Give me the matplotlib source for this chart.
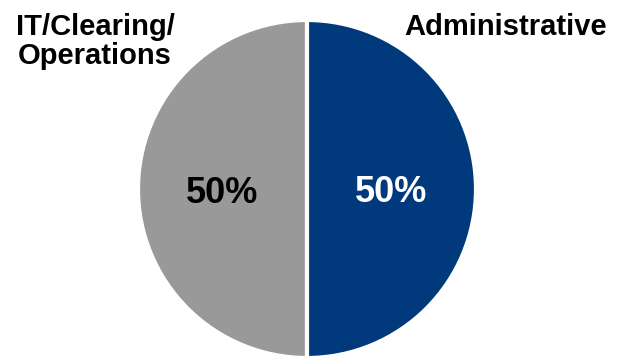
import matplotlib.pyplot as plt

labels = ['IT/Clearing/\nOperations', 'Administrative']
shares = [50, 50]
colors = ['#999999', '#003A7D']
pct_colors = ['black', 'white']

plt.rcParams['font.family'] = ['Liberation Sans', 'DejaVu Sans']

fig = plt.figure(figsize=(6.25, 3.58), dpi=100)
ax = fig.add_axes([0, 0, 1, 1])

wedges, texts, autotexts = ax.pie(
    shares,
    colors=colors,
    startangle=90,
    center=(307, 169),
    radius=169,
    autopct='%d%%',
    pctdistance=0.5,
    wedgeprops=dict(edgecolor='white', linewidth=3),
    textprops=dict(fontsize=26, fontweight='bold'),
)
for t, c in zip(autotexts, pct_colors):
    t.set_color(c)
    t.set_va('center_baseline')

# category labels sit above the pie in the corners
ax.text(95, 345, labels[0], ha='center', va='top', fontsize=21,
        fontweight='bold', linespacing=1.05)
ax.text(506, 345, labels[1], ha='center', va='top', fontsize=21,
        fontweight='bold')

ax.set_xlim(0, 625)
ax.set_ylim(0, 358)
ax.set_aspect('equal')
ax.axis('off')

fig.savefig('out.png', dpi=100)
